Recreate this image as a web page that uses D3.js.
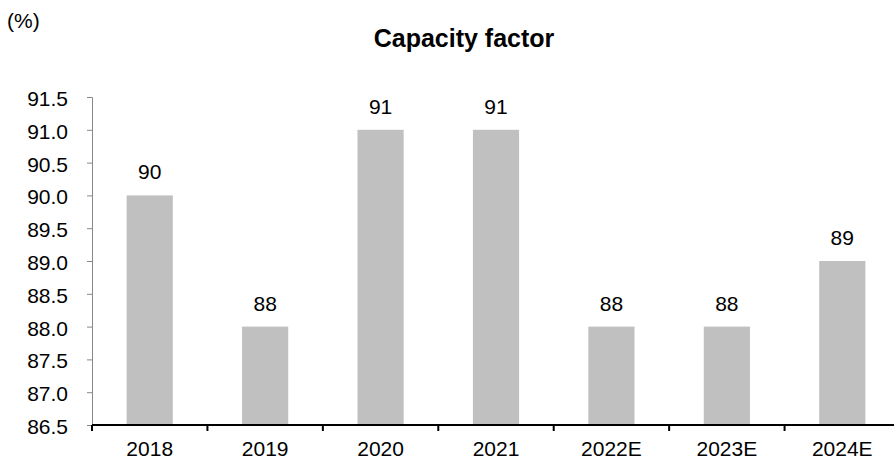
<!DOCTYPE html>
<html><head><meta charset="utf-8">
<script src="https://cdn.jsdelivr.net/npm/d3@7"></script>
<style>body{margin:0;background:#fff}svg{display:block}text{font-family:"Liberation Sans",Arial,sans-serif}</style>
</head><body><svg id="c" width="894" height="459"></svg>
<script>
const categories = ["2018","2019","2020","2021","2022E","2023E","2024E"];
const values = [90, 88, 91, 91, 88, 88, 89];
const yTicks = [86.5,87.0,87.5,88.0,88.5,89.0,89.5,90.0,90.5,91.0,91.5];
const title = "Capacity factor";
const unit = "(%)";

const svg = d3.select("#c");
const mL = 92, mR = 900, mT = 97, mB = 425;
const x = d3.scaleBand().domain(categories).range([mL, mR]).paddingInner(0.6).paddingOuter(0.3);
const y = d3.scaleLinear().domain([86.5, 91.5]).range([mB, mT]);

svg.append("text").attr("x", 7).attr("y", 28).attr("font-size", 21).text(unit);
svg.append("text").attr("x", 464).attr("y", 47).attr("text-anchor","middle").attr("font-size", 25).attr("font-weight","bold").text(title);

svg.selectAll("rect.bar").data(values).join("rect").attr("class","bar")
  .attr("x", (d,i)=>x(categories[i])).attr("width", x.bandwidth())
  .attr("y", d=>y(d)).attr("height", d=>mB - y(d)).attr("fill","#c0c0c0");

svg.selectAll("text.val").data(values).join("text").attr("class","val")
  .attr("x",(d,i)=>x(categories[i])+x.bandwidth()/2).attr("y", d=>y(d)-16)
  .attr("text-anchor","middle").attr("font-size",21).text(d=>d);

const ya = svg.append("g").attr("transform",`translate(${mL},0)`)
  .call(d3.axisLeft(y).tickValues(yTicks).tickFormat(d3.format(".1f")).tickSize(5).tickPadding(19));
ya.select(".domain").attr("stroke","#888");
ya.selectAll(".tick line").attr("stroke","#888");
ya.selectAll("text").attr("font-size",21).attr("fill","#000").attr("dy","0.4em").attr("font-family","Liberation Sans, Arial, sans-serif");

const xs = d3.scaleLinear().domain([0,7]).range([mL,mR]);
const xa = svg.append("g").attr("transform",`translate(0,${mB})`);
xa.append("line").attr("x1",mL).attr("x2",mR).attr("stroke","#000").attr("stroke-width",2);
xa.selectAll("line.t").data(d3.range(0,8)).join("line").attr("class","t")
  .attr("x1",d=>xs(d)).attr("x2",d=>xs(d)).attr("y1",0).attr("y2",6).attr("stroke","#000").attr("stroke-width",2);
xa.selectAll("text").data(categories).join("text")
  .attr("x",d=>x(d)+x.bandwidth()/2).attr("y",31).attr("text-anchor","middle").attr("font-size",21).text(d=>d);
</script></body></html>
